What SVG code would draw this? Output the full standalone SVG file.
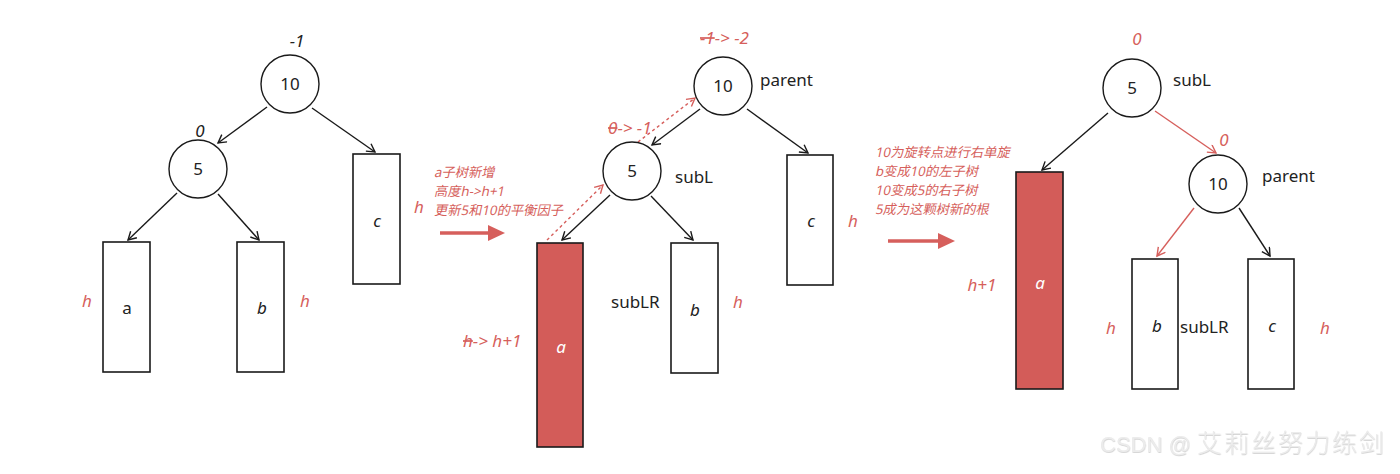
<svg xmlns="http://www.w3.org/2000/svg" width="1400" height="474" viewBox="0 0 1400 474">
<style>
.nd{fill:#fff;stroke:#1a1a1a;stroke-width:1.4}
.bx{fill:#fff;stroke:#1a1a1a;stroke-width:1.6}
.rb{fill:#d35c59;stroke:#1a1a1a;stroke-width:1.6}
.t{font-family:"Noto Sans","Noto Sans CJK SC",sans-serif;font-size:17px;fill:#222}
.it{font-family:"Noto Sans","Noto Sans CJK SC",sans-serif;font-size:17px;font-style:italic;fill:#222}
.wi{font-family:"Noto Sans","Noto Sans CJK SC",sans-serif;font-size:17px;font-style:italic;fill:#fff}
.r{font-family:"Noto Sans","Noto Sans CJK SC",sans-serif;font-size:17px;font-style:italic;fill:#d65f5c}
.cn{font-family:"Noto Sans","Noto Sans CJK SC",sans-serif;font-size:13.3px;fill:#d65f5c}
.e{stroke:#1a1a1a;stroke-width:1.4;fill:none;marker-end:url(#ab)}
.er{stroke:#d65f5c;stroke-width:1.4;fill:none;marker-end:url(#ar)}
.ed{stroke:#d65f5c;stroke-width:1.4;fill:none;stroke-dasharray:3 3;marker-end:url(#ar)}
.big{stroke:#d65f5c;stroke-width:3.5;fill:none}
.wm{font-family:"Liberation Sans","Noto Sans CJK SC",sans-serif;font-size:22px;fill:#ececec;filter:url(#sh)}
.wc{font-family:"Noto Sans CJK SC",sans-serif;font-size:25px;font-weight:300;letter-spacing:2px}
</style>
<defs>
<marker id="ab" markerWidth="12" markerHeight="12" refX="9" refY="5" orient="auto" markerUnits="userSpaceOnUse"><path d="M1,0.5 L9,5 L1,9.5" fill="none" stroke="#1a1a1a" stroke-width="1.4"/></marker>
<marker id="ar" markerWidth="12" markerHeight="12" refX="9" refY="5" orient="auto" markerUnits="userSpaceOnUse"><path d="M1,0.5 L9,5 L1,9.5" fill="none" stroke="#d65f5c" stroke-width="1.4"/></marker>
<filter id="sh" x="-5%" y="-20%" width="110%" height="150%"><feDropShadow dx="0.4" dy="0.8" stdDeviation="0.3" flood-color="#aaa" flood-opacity="0.6"/></filter>
</defs>

<g id="connectors">
<!-- left tree -->
<line class="e" x1="267" y1="107" x2="218" y2="143"/>
<line class="e" x1="312" y1="108" x2="375" y2="152"/>
<line class="e" x1="177" y1="193" x2="128" y2="240"/>
<line class="e" x1="218" y1="194" x2="259" y2="240"/>
<!-- middle tree -->
<line class="e" x1="700" y1="109" x2="652" y2="145"/>
<line class="e" x1="747" y1="109" x2="808" y2="153"/>
<line class="e" x1="610" y1="195" x2="562" y2="240"/>
<line class="e" x1="651" y1="196" x2="693" y2="240"/>
<line class="ed" x1="638" y1="142" x2="695" y2="98"/>
<line class="ed" x1="547" y1="240" x2="603" y2="185"/>
<!-- right tree -->
<line class="e" x1="1108" y1="113" x2="1042" y2="170"/>
<line class="er" x1="1155" y1="111" x2="1216" y2="153"/>
<line class="er" x1="1194" y1="208" x2="1157" y2="256"/>
<line class="e" x1="1239" y1="208" x2="1270" y2="256"/>
<!-- big arrows -->
<line class="big" x1="440" y1="233" x2="490" y2="233"/>
<polygon points="488,225 505,233 488,241" fill="#d65f5c"/>
<line class="big" x1="888" y1="241" x2="940" y2="241"/>
<polygon points="938,233 955,241 938,249" fill="#d65f5c"/>
</g>

<!-- left tree -->
<g id="L-n10"><circle class="nd" cx="290" cy="84" r="29"/><text class="t" x="290" y="90" text-anchor="middle">10</text><text class="it" x="297" y="47" text-anchor="middle">-1</text></g>
<g id="L-n5"><circle class="nd" cx="198" cy="169" r="29"/><text class="t" x="198" y="175" text-anchor="middle">5</text><text class="it" x="200" y="137" text-anchor="middle">0</text></g>
<g id="L-a"><rect class="bx" x="103" y="242" width="47" height="130"/><text class="t" x="127" y="314" text-anchor="middle">a</text><text class="r" x="87" y="307" text-anchor="middle">h</text></g>
<g id="L-b"><rect class="bx" x="237" y="242" width="47" height="130"/><text class="it" x="262" y="314" text-anchor="middle">b</text><text class="r" x="305" y="307" text-anchor="middle">h</text></g>
<g id="L-c"><rect class="bx" x="353" y="154" width="47" height="130"/><text class="it" x="377" y="227" text-anchor="middle">c</text><text class="r" x="419" y="213" text-anchor="middle">h</text></g>

<g id="note1">
<text class="cn" transform="translate(434,177) skewX(-12)">a子树新增</text>
<text class="cn" transform="translate(434,196) skewX(-12)">高度h-&gt;h+1</text>
<text class="cn" transform="translate(434,215) skewX(-12)">更新5和10的平衡因子</text>
</g>

<!-- middle tree -->
<g id="M-n10"><circle class="nd" cx="723" cy="86" r="29"/><text class="t" x="723" y="92" text-anchor="middle">10</text><text class="t" x="760" y="86">parent</text>
<text class="r" x="700" y="44"><tspan text-decoration="line-through">-1</tspan>-&gt; -2</text></g>
<g id="M-n5"><circle class="nd" cx="632" cy="171" r="29"/><text class="t" x="632" y="177" text-anchor="middle">5</text><text class="t" x="675" y="183">subL</text>
<text class="r" x="608" y="134"><tspan text-decoration="line-through">0</tspan>-&gt; -1</text></g>
<g id="M-a"><rect class="rb" x="537" y="243" width="46" height="204"/><text class="wi" x="561" y="353" text-anchor="middle">a</text>
<text class="r" x="463" y="347"><tspan text-decoration="line-through">h</tspan>-&gt; h+1</text></g>
<g id="M-b"><rect class="bx" x="671" y="243" width="47" height="130"/><text class="it" x="695" y="316" text-anchor="middle">b</text><text class="t" x="611" y="308">subLR</text><text class="r" x="738" y="308" text-anchor="middle">h</text></g>
<g id="M-c"><rect class="bx" x="787" y="155" width="46" height="130"/><text class="it" x="811" y="227" text-anchor="middle">c</text><text class="r" x="853" y="227" text-anchor="middle">h</text></g>

<g id="note2">
<text class="cn" transform="translate(875,157) skewX(-12)">10为旋转点进行右单旋</text>
<text class="cn" transform="translate(875,176) skewX(-12)">b变成10的左子树</text>
<text class="cn" transform="translate(875,195) skewX(-12)">10变成5的右子树</text>
<text class="cn" transform="translate(875,214) skewX(-12)">5成为这颗树新的根</text>
</g>

<!-- right tree -->
<g id="R-n5"><circle class="nd" cx="1132" cy="88" r="29"/><text class="t" x="1132" y="94" text-anchor="middle">5</text><text class="t" x="1173" y="86">subL</text><text class="r" x="1137" y="45" text-anchor="middle">0</text></g>
<g id="R-n10"><circle class="nd" cx="1218" cy="184" r="29"/><text class="t" x="1218" y="190" text-anchor="middle">10</text><text class="t" x="1262" y="182">parent</text><text class="r" x="1224" y="146" text-anchor="middle">0</text></g>
<g id="R-a"><rect class="rb" x="1016" y="172" width="47" height="217"/><text class="wi" x="1040" y="289" text-anchor="middle">a</text><text class="r" x="982" y="291" text-anchor="middle">h+1</text></g>
<g id="R-b"><rect class="bx" x="1132" y="259" width="46" height="130"/><text class="it" x="1157" y="332" text-anchor="middle">b</text><text class="t" x="1180" y="333">subLR</text><text class="r" x="1111" y="334" text-anchor="middle">h</text></g>
<g id="R-c"><rect class="bx" x="1248" y="259" width="46" height="130"/><text class="it" x="1272" y="332" text-anchor="middle">c</text><text class="r" x="1325" y="334" text-anchor="middle">h</text></g>

<text class="wm" x="1100" y="452">CSDN @<tspan class="wc" x="1197">艾莉丝努力练剑</tspan></text>
</svg>
